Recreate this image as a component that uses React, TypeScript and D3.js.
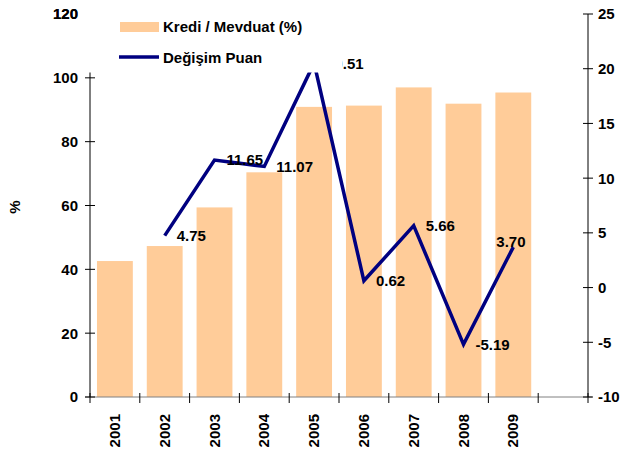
import React from "react";
import * as d3 from "d3";

const years = ["2001", "2002", "2003", "2004", "2005", "2006", "2007", "2008", "2009", ""];
const ratioValues = [42.6, 47.3, 59.4, 70.4, 90.9, 91.3, 97.0, 91.9, 95.4];
const changeYears = ["2002", "2003", "2004", "2005", "2006", "2007", "2008", "2009"];
const changeValues = [4.75, 11.65, 11.07, 20.51, 0.62, 5.66, -5.19, 3.70];
const leftTicks = [0, 20, 40, 60, 80, 100, 120];
const rightTicks = [-10, -5, 0, 5, 10, 15, 20, 25];
const seriesNames = ["Kredi / Mevduat (%)", "Değişim Puan"];

const W = 627, H = 450;
const left = 90, right = 588, top = 14, bottom = 397;
const FONT = "'Liberation Sans', Arial, sans-serif";
const BAR = "#FFCC99";
const LINE = "#000080";

export default function App() {
  const x = d3.scaleBand<string>().domain(years.map((y, i) => y || "_" + i)).range([left, right]).paddingInner(0).paddingOuter(0);
  const bw = x.bandwidth();
  const barW = bw * 0.72;
  const yL = d3.scaleLinear().domain([0, 120]).range([bottom, top]);
  const yR = d3.scaleLinear().domain([-10, 25]).range([bottom, top]);
  const cx = (y: string) => (x(y) as number) + bw / 2;
  const line = d3.line<number>().x((_, i) => cx(changeYears[i])).y((v) => yR(v));
  const bounds = d3.range(0, years.length + 1).map((i) => left + i * bw);

  return (
    <svg width={W} height={H} style={{ position: "absolute", left: 0, top: 0, background: "#fff" }} fontFamily={FONT} fontWeight="bold">
      {ratioValues.map((v, i) => (
        <rect key={i} x={cx(years[i]) - barW / 2} y={yL(v)} width={barW} height={bottom - yL(v)} fill={BAR} />
      ))}
      {/* x axis */}
      <line x1={left - 5} x2={right + 4} y1={bottom} y2={bottom} stroke="#808080" strokeWidth={1} />
      {bounds.map((b, i) => (
        <line key={i} x1={b} x2={b} y1={bottom - 4} y2={bottom + 6} stroke="#000" strokeWidth={1} />
      ))}
      {years.filter((y) => y).map((y) => (
        <text key={y} transform={`translate(${cx(y) + 5},${414}) rotate(-90)`} textAnchor="end" fontSize={15} fill="#000">{y}</text>
      ))}
      {/* line */}
      <path d={line(changeValues) || ""} fill="none" stroke={LINE} strokeWidth={3.5} strokeLinejoin="miter" />
      {changeValues.map((v, i) => {
        const last = i === changeValues.length - 1;
        const px = cx(changeYears[i]);
        const py = yR(v);
        return (
          <text key={i} x={last ? px - 17 : px + 12} y={last ? py - 5 : py} dy="0.36em" fontSize={15} fill="#000">
            {v.toFixed(2)}
          </text>
        );
      })}
      {/* left axis */}
      <line x1={left} x2={left} y1={top} y2={bottom} stroke="#000" />
      {leftTicks.map((t) => (
        <g key={t}>
          <line x1={left - 5} x2={left + 5} y1={yL(t)} y2={yL(t)} stroke="#000" />
          <text x={78} y={yL(t)} dy="0.36em" textAnchor="end" fontSize={15} fill="#000">{t}</text>
        </g>
      ))}
      {/* right axis */}
      <line x1={right} x2={right} y1={top} y2={bottom} stroke="#000" />
      {rightTicks.map((t) => (
        <g key={t}>
          <line x1={right - 5} x2={right + 5} y1={yR(t)} y2={yR(t)} stroke="#000" />
          <text x={598} y={yR(t)} dy="0.36em" fontSize={15} fill="#000">{t}</text>
        </g>
      ))}
      <text transform={`translate(20,207) rotate(-90)`} textAnchor="middle" fontSize={15} fill="#000">%</text>
      {/* legend */}
      <rect x={82} y={0} width={260.5} height={72.5} fill="#fff" />
      <text x={78} y={yL(120)} dy="0.36em" textAnchor="end" fontSize={15} fill="#000">120</text>
      <rect x={120} y={22} width={39} height={10} fill={BAR} />
      <text x={163} y={27} dy="0.36em" fontSize={15} fill="#000">{seriesNames[0]}</text>
      <line x1={119} x2={159} y1={57} y2={57} stroke={LINE} strokeWidth={3.5} />
      <text x={163} y={58} dy="0.36em" fontSize={15} fill="#000">{seriesNames[1]}</text>
    </svg>
  );
}
